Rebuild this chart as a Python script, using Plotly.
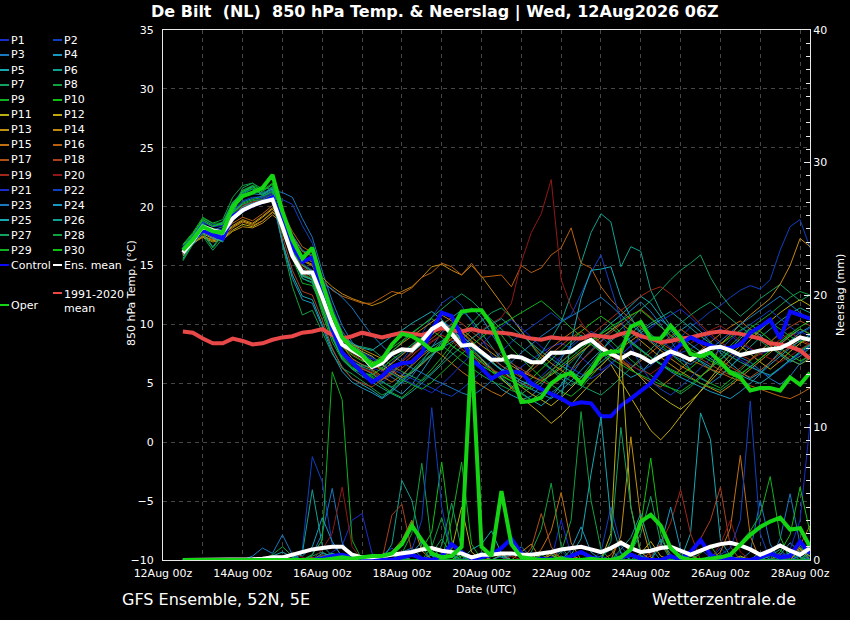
import pandas as pd
import plotly.graph_objects as go

# 6-hourly output times of the 12Aug2026 06Z run
times = pd.date_range("2026-08-12 12:00", "2026-08-28 06:00", freq="6h")

member_names = ["P1", "P2", "P3", "P4", "P5", "P6", "P7", "P8", "P9", "P10",
                "P11", "P12", "P13", "P14", "P15", "P16", "P17", "P18", "P19", "P20",
                "P21", "P22", "P23", "P24", "P25", "P26", "P27", "P28", "P29", "P30"]

# 850 hPa temperature (deg C) per member
t_p1 = [16.3,17.1,18.2,17.9,17.6,19.1,20.0,20.5,20.7,21.1,18.4,16.0,14.5,14.1,11.6,9.3,7.8,7.0,6.6,
        6.3,6.0,6.8,7.5,8.2, 8.9,9.6,10.2,9.8,9.1, 8.3,7.5,6.8,6.2,5.9, 6.4,7.0,7.6,8.1,8.4,
        8.0,7.2,6.5,6.1,6.7, 7.4,8.2,8.8,9.1,8.7, 8.0,7.6,7.9,8.5,9.2, 9.6,9.1,8.4,7.9,7.5, 7.8,8.4,9.0,9.4,9.0]
t_p2 = [16.7,17.7,18.9,18.5,18.4,20.3,21.4,21.7,21.3,21.9,19.2,16.6,14.7,14.1,11.2,8.8,7.1,6.3,5.8,
        5.4,5.0,5.8,6.9,8.0, 9.2,10.6,11.8,12.4,11.6, 10.2,8.8,7.4,6.5,5.8, 5.2,4.9,5.6,6.4,7.3,
        8.1,8.8,9.4,9.0,8.2, 7.3,6.6,6.0,6.5,7.2, 8.0,8.9,9.8,10.4,11.1, 11.6,12.3,12.9,13.3,13.0, 13.8,16.3,18.3,18.9,16.5]
t_p3 = [16.4,17.5,18.6,18.0,18.3,19.9,20.8,21.1,21.0,21.4,21.2,20.8,19.0,17.4,14.5,12.0,9.9,8.5,7.6,
        6.9,6.2,5.5,5.0,5.6, 6.8,8.0,9.3,10.1,10.8, 11.4,10.6,9.2,7.9,6.8, 5.9,5.1,4.6,4.2,4.8,
        5.7,6.9,7.8,8.6,9.5, 10.3,11.2,11.9,11.1,10.0, 8.6,7.3,6.1,5.4,5.0, 5.6,6.4,7.2,6.8,6.1, 5.4,4.9,5.6,6.7,7.5]
t_p4 = [16.1,17.3,18.4,17.6,17.9,19.5,20.2,20.3,20.5,20.9,18.9,16.4,14.2,13.8,11.9,9.5,7.7,6.9,6.3,
        5.8,5.2,4.6,4.1,4.9, 6.0,7.2,8.5,9.4,8.8, 7.6,6.4,5.3,4.5,4.0, 3.6,3.9,4.8,5.9,7.1,
        8.3,9.1,8.5,7.6,6.8, 6.1,5.5,5.9,6.8,7.9, 8.8,9.5,10.1,9.4,8.5, 7.6,6.7,6.0,5.4,5.9, 6.8,7.7,8.6,9.3,9.8]
t_p5 = [15.8,16.9,18.0,17.4,17.0,18.8,19.6,20.2,20.4,20.7,17.0,14.2,12.4,12.1,10.0,7.9,6.4,5.4,4.9,
        4.4,3.8,4.5,5.6,6.6, 7.5,8.1,8.6,9.2,8.7, 8.0,7.1,6.3,5.5,4.8, 4.2,3.6,3.1,3.8,4.9,
        6.2,7.4,8.5,9.3,10.1, 10.8,11.6,12.4,11.8,10.7, 9.6,8.4,7.5,6.9,6.4, 7.0,7.9,8.8,9.6,9.1, 8.2,7.4,6.8,7.3,8.0]
t_p6 = [16.5,17.5,18.7,18.3,18.7,20.4,21.1,21.5,21.0,21.6,19.6,17.0,15.0,14.4,11.8,9.2,7.6,6.8,6.4,
        6.1,5.4,5.9,6.8,7.6, 8.3,9.1,9.9,10.6,11.2, 10.4,9.3,8.1,7.0,6.2, 5.6,6.3,7.5,8.8,10.2,
        12.5,15.2,17.8,19.4,18.7, 14.9,16.6,16.2,12.9,11.1, 9.8,8.6,7.5,6.8,6.2, 5.7,6.4,7.3,8.1,8.9, 9.6,10.3,10.9,11.4,11.0]
t_p7 = [15.4,16.8,17.5,16.3,17.3,19.6,21.6,22.0,21.2,21.5,18.2,16.0,13.9,13.5,11.9,10.1,8.6,8.2,8.1,
        7.9,7.2,6.5,6.0,5.6, 5.2,5.9,6.8,7.9,8.7, 9.5,10.3,11.0,11.4,10.6, 9.4,8.2,7.1,6.2,5.4,
        4.8,5.5,6.6,7.7,8.8, 9.6,10.4,11.3,12.0,12.9, 13.8,14.6,15.2,15.9,14.0, 12.6,11.5,10.7,11.4,12.2, 12.8,13.4,12.7,12.0,12.5]
t_p8 = [16.1,17.5,19.0,18.6,18.9,20.8,21.8,22.0,21.5,21.6,16.8,13.2,10.8,11.2,9.4,7.5,6.3,5.8,5.2,
        4.6,4.0,4.4,5.2,6.1, 7.0,7.8,8.5,9.0,8.4, 7.6,6.8,6.0,5.3,4.7, 4.1,3.6,4.2,5.0,5.9,
        6.8,7.6,8.4,9.1,8.6, 7.8,7.0,6.3,5.7,5.1, 4.6,4.1,4.7,5.5,6.4, 7.3,8.2,9.0,9.7,10.3, 10.9,11.6,12.3,12.8,12.5]
t_p9 = [16.8,17.8,19.1,18.6,18.6,20.0,21.2,21.8,21.4,22.0,19.0,16.3,14.4,13.7,10.9,8.5,7.0,6.2,5.9,
        5.5,4.8,4.2,3.8,4.5, 5.3,6.2,7.2,8.3,9.2, 10.1,11.0,10.2,9.1,8.0, 7.1,6.3,5.5,4.9,4.3,
        3.9,4.6,5.6,6.5,7.4, 8.3,9.2,10.0,9.2,8.3, 7.5,6.8,6.1,5.5,5.0, 4.6,5.3,6.1,6.9,7.7, 8.5,9.3,8.6,7.8,8.4]
t_p10 = [16.2,17.2,18.3,17.8,17.8,19.4,20.3,20.6,20.8,21.2,18.7,16.4,14.6,14.3,12.1,9.8,8.1,7.4,6.9,
         6.7,7.3,8.0,8.6,9.3, 9.9,10.5,9.8,9.0,8.2, 7.5,6.8,6.2,5.7,5.2, 4.8,5.4,6.2,7.0,7.8,
         8.6,9.4,10.1,10.7,10.1, 9.3,8.5,7.8,7.2,6.6, 6.1,5.7,6.3,7.0,7.6, 8.3,8.9,9.5,10.0,9.4, 8.7,8.0,7.4,6.9,7.3]
t_p11 = [15.9,17.0,17.5,17.1,17.3,18.0,18.5,18.3,18.8,19.5,19.0,17.2,15.8,15.3,13.5,11.0,9.1,8.2,7.7,
         7.3,6.6,6.0,5.5,5.9, 6.6,7.4,8.1,8.8,9.4, 8.6,7.7,6.9,6.1,5.4, 4.7,4.1,3.6,3.1,3.8,
         4.6,5.5,6.3,7.1,7.9, 7.1,6.3,5.5,4.6,3.9, 3.3,2.8,3.5,4.3,5.2, 6.1,7.0,7.8,8.7,9.5, 10.3,11.0,11.6,12.1,11.6]
t_p12 = [16.0,17.1,17.7,17.3,17.6,18.3,18.8,18.5,19.1,19.8,18.7,16.8,15.4,15.0,13.2,10.7,8.7,7.9,7.2,
         6.8,6.1,6.7,7.4,8.1, 8.8,9.5,10.1,9.4,8.6, 7.8,7.0,6.2,5.4,4.6, 3.8,3.1,2.4,1.6,2.3,
         3.2,4.1,5.0,5.8,6.6, 5.2,3.8,2.4,1.0,0.2, 1.1,2.2,3.3,4.4,5.5, 6.5,7.4,8.2,7.5,6.8, 6.2,6.9,7.7,8.4,8.9]
t_p13 = [15.8,16.9,17.4,17.0,17.2,17.9,18.3,18.2,18.6,19.3,18.6,16.9,15.5,15.1,13.4,11.0,9.4,8.3,7.9,
         7.5,7.1,7.7,8.4,9.0, 9.6,10.2,10.8,10.3,9.6, 8.9,8.2,7.6,7.0,6.5, 6.0,5.6,5.2,5.7,6.3,
         7.0,7.7,8.3,8.9,9.5, 10.1,9.4,8.6,7.9,7.2, 6.6,6.0,5.5,5.0,4.6, 4.2,4.8,5.5,6.2,6.9, 7.6,8.3,9.0,9.6,9.2]
t_p14 = [16.0,17.1,17.8,17.4,17.6,18.4,18.9,18.6,19.2,19.9,19.2,17.5,16.2,15.8,14.0,13.2,12.6,12.2,11.9,
         11.6,11.9,12.4,12.8,13.2, 14.0,14.9,15.1,14.6,14.2, 15.0,14.1,13.0,11.8,10.6, 9.4,8.3,7.4,6.7,6.1,
         5.6,5.2,5.8,6.5,7.3, 8.0,8.6,9.2,8.5,7.8, 7.1,6.5,6.0,5.6,6.2, 8.3,9.1,10.0,10.8,11.5, 12.2,13.4,15.0,17.3,16.6]
t_p15 = [15.9,16.9,17.5,17.2,17.3,18.2,18.7,18.4,18.8,19.6,18.5,16.5,15.0,14.6,12.8,10.2,8.2,7.1,6.6,
         6.2,5.6,5.1,5.7,6.5, 7.3,8.0,7.4,6.7,6.0, 5.4,4.8,4.3,3.9,4.6, 5.5,6.4,7.2,8.0,8.7,
         9.3,9.9,9.2,8.4,7.6, 6.9,6.2,5.6,5.1,4.7, 5.4,6.2,7.0,7.8,8.5, 9.2,9.8,10.3,9.6,8.9, 8.2,7.6,7.0,6.6,7.1]
t_p16 = [16.1,17.2,17.9,17.5,17.8,18.6,19.1,18.8,19.4,20.1,19.5,17.9,16.6,16.1,13.8,12.9,12.4,12.1,11.8,
         11.8,12.3,12.8,12.6,13.1, 14.0,14.4,15.2,14.9,14.2, 15.2,14.0,14.1,14.2,13.2, 15.0,14.4,14.8,15.9,16.5,
         18.2,15.2,14.8,13.2,12.1, 11.2,10.4,9.7,9.0,8.4, 7.9,7.4,7.0,6.6,6.2, 5.9,5.5,5.2,4.8,4.5, 4.2,3.9,3.7,4.1,4.6]
t_p17 = [16.3,17.3,18.4,17.9,17.6,19.2,20.0,20.3,20.5,20.9,18.3,15.9,14.1,13.8,11.5,9.2,7.4,6.6,6.2,
         5.9,5.3,5.8,6.6,7.3, 8.1,8.8,9.5,10.0,9.3, 8.5,7.8,7.1,6.5,6.0, 5.5,6.1,6.8,7.5,8.2,
         8.9,9.4,8.7,8.0,7.4, 6.8,6.3,6.9,7.6,8.3, 9.0,9.6,9.0,8.3,7.6, 7.0,6.4,5.9,5.5,6.1, 6.8,7.5,8.1,8.6,8.2]
t_p18 = [16.0,17.1,18.2,17.6,17.3,19.1,19.8,20.4,20.6,20.9,17.5,14.6,12.8,12.5,10.4,8.0,6.3,5.4,5.0,
         4.7,5.3,6.0,6.8,7.7, 8.5,9.3,10.0,10.6,10.1, 9.4,8.7,8.0,7.3,6.7, 6.2,5.7,5.2,4.8,5.4,
         6.1,6.9,7.7,8.5,9.3, 10.0,10.7,11.3,10.6,9.8, 9.0,8.3,7.7,7.1,6.6, 6.1,5.7,6.3,7.0,7.8, 8.5,9.2,9.8,10.3,9.9]
t_p19 = [16.2,17.2,18.2,17.7,17.5,19.2,20.1,20.4,20.6,21.0,18.8,16.5,14.8,14.4,12.0,9.9,8.2,7.5,7.0,
         6.6,6.1,5.7,6.3,7.0, 7.8,8.5,9.1,8.6,7.9, 7.3,6.7,6.2,5.8,5.4, 5.0,4.7,5.3,6.0,6.8,
         7.6,8.4,9.1,9.8,10.5, 11.2,11.8,12.4,12.9,13.2, 12.6,11.8,10.9,10.0,9.2, 8.5,7.9,7.4,7.0,7.5, 8.1,8.7,9.3,8.8,8.3]
t_p20 = [16.1,17.1,18.1,17.6,17.4,19.0,19.9,20.2,20.4,20.8,18.5,16.1,14.3,14.0,11.7,9.4,7.6,6.8,6.3,
         6.0,5.6,6.2,6.9,7.5, 8.0,8.6,9.1,8.7,8.2, 8.8,9.5,10.1,10.6,11.8, 15.3,17.8,19.4,22.3,13.8,
         11.5,10.2,9.1,8.3,7.6, 7.0,6.5,6.1,5.8,6.4, 7.1,7.8,8.4,9.0,9.5, 9.9,9.3,8.6,8.0,7.5, 7.1,6.8,7.3,7.9,8.4]
t_p21 = [16.6,17.6,18.7,18.3,18.4,20.1,21.2,21.5,21.1,21.7,19.5,17.0,15.2,14.6,12.1,9.7,8.2,7.6,7.3,
         7.1,6.5,5.9,5.4,5.0, 4.6,4.2,4.9,5.7,6.6, 7.5,8.3,9.1,9.8,10.4, 9.7,8.9,8.1,7.4,6.8,
         6.3,5.8,5.4,5.9,6.6, 7.4,8.2,9.0,9.7,10.3, 10.8,11.3,10.6,9.8,9.0, 8.3,7.6,7.0,6.5,6.0, 5.6,6.2,6.9,7.5,8.1]
t_p22 = [16.3,17.3,18.4,18.0,18.1,19.6,20.5,20.8,20.8,21.2,20.6,20.2,18.4,16.9,14.0,11.5,9.4,8.2,7.6,
         7.2,6.7,6.2,5.8,5.4, 5.0,4.6,4.2,3.9,4.5, 5.2,6.0,6.9,7.7,8.5, 9.2,9.8,10.4,11.0,10.3,
         10.8,12.6,14.4,15.9,13.2, 10.4,8.2,6.5,5.2,4.5, 4.0,4.7,5.5,6.3,7.1, 7.9,8.7,9.4,10.0,10.6, 11.2,10.5,9.8,9.2,9.7]
t_p23 = [16.4,17.4,18.5,18.0,17.9,19.5,20.4,20.7,20.9,21.3,19.8,17.6,16.3,15.9,13.5,13.0,12.3,11.4,10.2,
         9.1,8.2,7.4,6.8,6.3, 5.9,5.4,5.0,4.6,4.2, 3.9,4.5,5.2,6.0,6.8, 7.6,8.3,9.0,9.6,10.2,
         10.7,11.2,11.8,12.3,11.6, 10.8,10.0,9.3,8.6,8.0, 7.5,7.0,6.6,7.2,7.9, 8.6,9.3,10.0,10.6,11.2, 11.8,12.4,11.7,11.0,10.4]
t_p24 = [15.9,16.8,17.9,17.3,17.1,18.9,19.5,20.1,20.3,20.6,16.9,13.9,12.1,11.8,9.8,7.6,6.0,5.1,4.6,
         4.2,3.7,4.3,5.1,5.9, 6.7,7.4,8.0,8.5,9.0, 8.3,7.5,6.8,6.1,5.5, 5.0,4.5,4.1,3.7,4.4,
         5.2,6.1,7.0,7.8,8.6, 9.3,8.6,7.9,7.2,6.6, 6.0,5.5,5.1,4.7,4.3, 4.0,3.7,4.3,5.0,5.8, 6.6,7.3,8.0,8.6,9.1]
t_p25 = [15.6,17.0,17.8,16.6,17.7,19.5,21.3,21.7,21.1,21.5,18.4,16.2,14.1,13.8,12.0,10.3,9.0,8.4,8.0,
         7.8,8.4,9.0,9.5,10.1, 10.6,11.1,10.4,9.6,8.8, 8.1,7.4,6.8,6.2,5.7, 5.2,4.8,4.4,4.0,3.6,
         8.5,12.2,14.6,14.7,14.9, 12.3,10.6,9.3,9.9,10.4, 9.7,9.0,8.3,7.7,7.1, 6.6,6.1,5.7,5.3,5.0, 5.6,6.3,7.0,7.7,8.3]
t_p26 = [16.2,17.2,18.2,17.7,17.6,19.2,20.0,20.3,20.5,20.8,18.2,15.7,13.9,13.6,11.2,8.9,7.1,6.2,5.6,
         5.1,4.6,4.1,3.7,4.3, 5.0,5.8,6.6,7.4,8.1, 8.8,9.4,10.0,10.5,9.8, 9.1,8.4,7.7,7.1,6.5,
         6.0,5.5,6.1,6.8,7.5, 8.2,8.9,9.5,10.1,10.6, 11.1,10.4,9.7,9.0,8.4, 7.8,7.3,6.8,6.4,6.0, 5.7,6.3,7.0,7.6,8.2]
t_p27 = [16.5,17.6,18.8,18.3,18.6,20.3,21.2,21.5,21.0,21.7,19.3,17.0,15.1,14.5,12.0,9.4,7.6,6.8,6.5,
         6.4,7.0,7.7,8.5,9.2, 9.9,10.6,11.3,12.0,12.6, 12.0,11.2,10.4,9.6,8.8, 8.1,7.4,6.8,6.2,5.7,
         5.2,4.8,4.4,4.0,4.7, 5.5,6.3,7.1,7.9,8.7, 9.4,10.1,10.8,11.4,11.9, 11.2,10.5,9.8,9.2,8.6, 8.0,7.5,7.0,6.6,7.2]
t_p28 = [16.3,17.2,18.3,17.8,17.7,19.3,20.2,20.5,20.6,21.0,18.5,16.1,14.2,13.9,11.6,9.1,7.3,6.4,5.9,
         5.6,5.1,4.7,5.3,6.0, 6.8,7.5,8.2,7.6,6.9, 6.3,5.7,5.2,4.8,4.4, 4.1,4.7,5.4,6.1,6.8,
         7.5,8.1,8.7,9.2,9.7, 9.1,8.4,7.8,7.2,6.7, 6.2,5.8,5.4,5.0,4.7, 4.4,5.0,5.7,6.4,7.1, 7.8,8.5,9.1,9.6,9.2]
t_p29 = [15.5,16.9,17.7,16.5,17.6,19.3,21.4,21.8,20.9,21.3,17.8,15.6,13.5,13.3,11.5,9.6,8.2,7.6,7.2,
         6.9,6.3,5.8,5.3,4.9, 4.5,5.1,5.9,6.7,7.5, 8.2,8.9,9.5,10.0,10.5, 11.0,11.5,12.0,11.3,10.5,
         9.7,9.0,8.3,7.7,7.1, 6.6,6.1,5.7,5.3,4.9, 4.6,4.3,4.9,5.6,6.3, 7.0,7.7,8.4,9.0,9.6, 10.2,9.6,9.0,8.5,8.9]
t_p30 = [16.7,17.7,18.9,18.4,18.5,20.2,21.3,21.6,21.3,21.9,19.1,16.5,14.6,14.0,11.3,8.9,7.2,6.3,5.9,
         5.7,6.3,7.0,7.6,8.3, 8.9,9.5,8.9,8.2,7.6, 7.0,6.5,6.0,5.6,5.2, 4.8,4.5,5.1,5.8,6.5,
         7.2,7.9,8.6,9.2,9.8, 10.3,10.8,11.2,10.5,9.8, 9.1,8.5,7.9,7.4,6.9, 6.5,6.1,5.8,6.4,7.1, 7.8,8.5,9.2,9.8,10.3]

t_control = [16.3,17.2,18.0,17.6,17.3,19.2,19.7,20.1,20.4,20.8,18.6,16.6,15.3,15.7,12.7,9.6,7.6,6.8,5.9,
             5.1,5.6,6.4,6.7,6.8,7.6,9.5,11.0,10.7,9.0,7.0,6.3,5.4,5.9,6.0,5.9,5.0,4.5,4.1,3.7,3.2,
             3.4,3.3,2.2,2.2,3.1,3.7,4.3,5.0,6.1,7.5,8.3,8.9,8.5,8.2,8.0,8.0,8.3,9.3,9.8,10.4,8.8,11.1,10.8,10.5]
t_ens_mean = [16.1,17.1,18.3,18.0,17.8,19.0,19.7,20.1,20.4,20.6,18.3,15.8,14.4,14.4,12.3,10.0,8.3,7.8,7.3,
              6.4,6.7,7.5,7.9,7.8,8.6,9.6,10.1,9.2,8.2,8.3,7.7,7.0,7.0,7.3,7.2,6.8,6.8,7.6,7.6,7.7,
              8.3,8.7,8.0,7.5,7.1,7.6,7.3,6.8,7.3,7.7,7.4,7.0,7.6,8.0,8.1,7.8,7.4,7.6,7.8,7.9,8.0,8.4,8.9,8.7]
t_oper = [16.3,17.2,18.3,17.9,17.8,20.0,20.9,21.2,21.6,22.7,19.6,17.2,15.6,16.5,13.5,10.9,8.9,8.0,7.4,
          6.5,7.0,8.3,9.2,9.0,8.5,7.8,8.0,9.5,11.1,11.2,11.2,10.0,8.0,6.0,3.4,3.5,3.8,5.0,5.6,5.9,
          5.0,6.1,7.4,7.7,7.7,9.8,10.2,8.8,8.8,9.9,8.9,7.5,7.3,7.6,6.8,5.9,5.5,4.4,4.6,4.6,4.4,5.5,4.9,5.9]
t_clim = [9.4,9.3,8.8,8.4,8.4,8.8,8.6,8.3,8.4,8.7,8.9,9.0,9.3,9.4,9.6,9.1,8.8,9.0,9.3,
          9.1,8.9,9.1,9.3,9.2,9.1,9.4,9.7,9.5,9.4,9.6,9.4,9.3,9.3,9.2,9.0,8.8,8.7,8.9,8.8,8.8,
          8.8,9.1,9.0,8.9,9.2,9.4,9.0,8.8,8.5,8.6,8.8,8.9,9.1,9.3,9.4,9.3,9.2,9.0,8.8,8.4,8.3,8.1,7.8,7.1]

# 6-hourly precipitation (mm) per member
r_p1 = [0,0,0,0,0,0,0,0, 0,0,0,0,0,0,0.2,0.6, 1.1,3.0,3.5,0.5,0,0,0.3,0, 0,0,0,0,0,0,0.4,0,
        0,0,0,0.6,0,0,3.0,0.4, 0,0,0,0,0.6,0,0,0, 0,0,0,0,0.8,0.2,0,0, 0,0,0,0,0.5,0.2,0,0]
r_p2 = [0,0,0,0,0,0,0,0, 0,0,0,0,0.8,7.8,5.9,1.2, 0.3,0,0,0,0.4,0.9,0.2,0, 0,0,0.5,1.2,0.3,0,0,0,
        0,0,0,0,0,0.2,0.7,0, 0,0,0.6,4.0,1.1,0,0,0, 0,0.3,0,0,0,0,0.9,0.2, 0,0,0,0,0,0,0.4,0]
r_p3 = [0,0,0,0,0,0,0,0, 0,0,0,0,0,0.4,2.0,5.4, 1.3,0.2,0,0,0,0,0.6,0.9, 0.2,0,0,0,0,0.3,0,0,
        0,0.4,1.0,0.2,0,0,0,0, 0,0,0,0,0,0.5,0.2,0, 0,0,0,0,0,0.3,0,0, 0,0.6,4.5,1.2,0,0,0,0]
r_p4 = [0,0,0,0,0,0,0,0, 0,0,0.2,0.5,0.3,1.0,3.2,1.4, 0.2,0,0,0,0,0,0,0.5, 1.4,0.3,0,0,0,0,0,0.6,
        0.2,0,0,0,0,0,0,0.8, 2.5,0.6,0,0,0,0,0,0, 1.6,0.4,0,0,0,0,0,0, 0,0,0,0,0.4,1.3,0.6,0]
r_p5 = [0,0,0,0,0,0,0,0, 0,0.3,0.6,0.2,0,0,0,0.4, 0.3,0,0,0,0,0,0,0, 0,0.4,0,0,0,0.8,1.2,2.2,
        0.5,0,0,0,0,0,0.3,0, 0,0,0,0,0,0.4,0,0, 0,0,0,2.0,11.1,9.1,1.5,0.3, 0,0,0,0,0,0.6,0.2,0]
r_p6 = [0,0,0,0,0,0,0,0, 0,0,0,0,0.5,5.3,1.1,0.3, 0,0,0,0,0,1.2,6.0,4.5, 1.0,0,0,0,0,0,0,0,
        0,0,0,0.4,0.2,0,0,0, 0,0,0.3,0.8,0,0,0,0, 0,0,0,0,0,0,0.4,0, 0,0,0,0.3,0.8,0,0,0]
r_p7 = [0,0,0,0,0,0,0,0, 0,0,0,0,0,0.3,0.6,0.2, 0,0,0,0,0.3,0,0,0, 0,0.5,1.6,0.4,0,0,0,0,
        0,0,0,0,0,0.4,0,0, 0,0,0,0,0,0.6,2.0,4.8, 1.3,0,0,0,0,0,0,0, 0.2,0,0,0,0,0,0,0.7]
r_p8 = [0,0,0,0,0,0,0,0, 0,0.4,1.0,0.3,0,0,0,0, 0,0,0,0,0,0,0.5,2.0, 7.3,1.1,0,0,0,0,0,0,
        0,0,0,0,0,0,0.6,3.0, 11.2,4.5,0.8,0,0,0,0,0, 0,0,0,0.3,0,0,0,0, 0,0,0,0,0,0.4,1.0,0.2]
r_p9 = [0,0,0,0,0,0,0,0, 0,0,0,0,0,0.4,1.5,14.2, 12.1,1.5,0,0,0,0,0,0, 0,0,0,3.0,7.4,1.2,0,0,
        0,0,0,0,0.4,0,0,0, 0,0,0,0,0,0,0.3,0, 0,0,0,0,0.5,1.1,0,0, 0,0,0,0,0,0,0,0.5]
r_p10 = [0,0,0,0,0,0,0,0, 0,0,0,0,0,0,0.3,0.5, 0.2,0,0,0,0,0,0,0.4, 0.8,2.1,7.4,1.5,0,0,0,0,
         0,0,0,0,0,0.6,0,0, 0,0,0,0,0,0.8,2.6,7.7, 2.0,0,0,0,0,0,0,0, 0,0,0,0,0.3,0,0,0]
r_p11 = [0,0,0,0,0,0,0,0, 0,0,0,0,0,0,0.2,0.4, 0,0,0,0,0.3,0,0,0, 0,0,0,0,0.6,0.3,0,0,
         0,0,0,0,0,0,0,0.4, 0,0,0,2.0,16.0,4.0,0.6,0, 0,0,0,0,0,0,0,0, 0.3,0,0,0,0,0,0,0]
r_p12 = [0,0,0,0,0,0,0,0, 0,0,0,0,0,0,0,0.3, 0.2,0,0,0,0,0,0,0, 0,0,0,0.8,4.0,0.6,0,0,
         0.4,0,0,0,0,0,0,0, 0,0,0,0,0,0,0.5,1.4, 0.3,0,0,0,0,0,0,0, 0,0,0,0,0,0,0.8,0.3]
r_p13 = [0,0,0,0,0,0,0,0, 0,0,0,0,0,0,0,0.2, 0.4,0,0,0,0,0,0,0, 0,0,0,0,0,0,0.3,0,
         0,0,0,0,0,0.4,0,0, 0,0,0,0,1.8,9.3,3.0,0.2, 0,0,0,0,0,0,0,0, 0,0,0,0,0,0.3,0.9,0]
r_p14 = [0,0,0,0,0,0,0,0, 0,0,0,0,0,0,0.2,0, 0,0,0,0,0,0.6,1.5,3.0, 0.7,0,0,0,0,0,0,0,
         0,0,0.6,1.2,0,0,0,0, 0,0,0,0,0,0,0,0, 0,0,0,0.4,0,0,0,0, 0,0,0,0,0,0,0,0]
r_p15 = [0,0,0,0,0,0,0,0, 0,0,0,0,0,0,0,0, 0.3,0,0,0,0,0,0,0, 0,0,0,0,0,0,0.4,0,
         0,0,0,0,0.8,2.2,5.1,1.3, 0,0,0,0,0,0,0,0, 0,0,0,0,0,0,0.6,2.4, 7.9,1.8,0,0,0,0,0,0]
r_p16 = [0,0,0,0,0,0,0,0, 0,0,0,0,0,0,0,0, 0,0,0,0,0,0,0.3,0, 0,0,0,0,0,0,0,0,
         0,0,0,0,0,0.6,0.2,0, 0,0,0,0.4,1.5,0.5,0,0, 0,0,0,0,0,0,0,0, 0,0,0,0,0,0,1.1,2.6]
r_p17 = [0,0,0,0,0,0,0,0, 0,0,0,0,0,0.2,0,0, 0,0,0,0,0,0,0,0, 0,0,0,0,0,0,0,0,
         0,0,0,0.9,3.5,1.0,0,0, 0,0,0,0,0,0,0,0.6, 1.2,0.3,0,0,0,0,0,0, 0,0,0,0,0,0,0,0]
r_p18 = [0,0,0,0,0,0,0,0, 0,0,0,0,0,0,0,0.3, 0,0,0,0,0,3.4,4.2,0.6, 0,0,0,0,0,0,0,0,
         0,0,0,0,0,0,0,0.3, 0,0,0,0,0,0,0,0, 0,0,0,0.5,1.6,3.0,5.5,1.0, 0,0,0,0,0,0,0,0]
r_p19 = [0,0,0,0,0,0,0,0, 0,0,0,0,0,0,0.4,0, 0,0,0,0,0,0,0,0, 0,0,0,0,0,0,0,0,
         0,0.3,0,0,0,0,0,0, 0,0,0,0,0,0,0,0.3, 1.2,2.8,5.3,2.0,0,0,0,0, 0,0,0,0,0.4,0,0,0]
r_p20 = [0,0,0,0,0,0,0,0, 0,0,0,0.6,0.2,0,0.8,2.0, 5.5,1.0,0,0,0,0,0,0, 0,0,0,0,0,0,0,0,
         0,0,0,0,0,0,0,0, 0,0,0,0,0,0.4,0,0, 0,0,0,0,0,0,1.2,3.0, 0.6,0,0,0,0,0,0,0]
r_p21 = [0,0,0,0,0,0,0,0, 0,0,0,0,0,0,0,0, 0.4,0,0,0,0,0,0,0, 0,0,0,0.3,0,0,0,0,
         0,0,0,0,0,0,0,0, 0,0,0,0,0,0,0.4,0, 0,0,0,0,0,0,0,0, 0,0,0,0,0,0.8,3.0,10.3]
r_p22 = [0,0,0,0,0,0,0,0, 0,0,0,0,0,0,0,0.3, 0,0,0,0,0,0,0,0.8, 3.0,11.5,4.0,0.5,0,0,0,0,
         0,0,0,0,0,0,0,0, 0,0,0.3,0,0,0,0,0, 0,0,0,0,0,0,0.4,0.9, 3.0,12.0,2.0,0,0,0,0,0]
r_p23 = [0,0,0,0,0,0,0,0.3, 0.9,0.5,1.9,0.4,0,0,0.3,0, 0,0,0,0,0,0,0,0, 0,0,0,0,0,0,0.6,0,
         0,0,0,0,0,0,0,0, 0,0,0,0,0,0,0,0, 0,0,0.5,0,0,0,0,0, 0,0,0,0,1.6,5.0,1.2,0]
r_p24 = [0,0,0,0,0,0,0,0, 0,0,0,0,0,0,0.5,0.3, 0,0,0,0,0,0,0,0, 0,0,0,0,0,0,0,0,
         0.3,0,0,0,0,0,0,0, 0,0,0,0,0,0,0,0, 1.1,4.0,0.8,0,0,0,0,0, 0,0,0,0,0,0,0.3,0.7]
r_p25 = [0,0,0,0,0,0,0,0, 0,0,0,0,0,0,0,0.5, 0.2,0,0,0,0,0,0,0, 0,0,0,0,0.5,0.2,0,0,
         0,0,0,0,0,0,0,0.4, 1.6,6.5,10.8,3.0,0.5,0,0,0, 0,0,0,0,0,0,0,0, 0,0,0.6,0,0,0,0,0]
r_p26 = [0,0,0,0,0,0,0,0, 0,0,0,0,0,0,0.2,0, 0,0,0,0,0,0,0.3,0, 0,0,0,0,0,0,0,0,
         0,0,0,0,0,0,0,0, 0,0,0,0,0.8,1.7,3.5,0.9, 0,0,0,0,0,0,0,0, 0,0,0,0.4,0,0,0,0]
r_p27 = [0,0,0,0,0,0,0,0, 0,0,0,0,0,0,0,0.2, 0,0,0,0,0,0,0,0, 0,0,1.1,4.3,0.8,0,0,0,
         0,0,0,0,0,0,0,0, 0,0,0,1.4,10.0,4.0,0.3,0, 0,0,0,0,0,0,0,0, 0,0,0,0,0,0.5,0,0]
r_p28 = [0,0,0,0,0,0,0,0, 0,0,0,0,0,0,0,0.3, 0,0,0,0,0,0,0,0, 0,1.0,3.2,0.4,0,0,0,0,
         0,0,0,0.6,2.3,5.8,1.0,0, 0,0,0,0,0,0,0,0, 0,0,0,0,0,0,0.3,0, 0,0,0,0,0,0,0,0]
r_p29 = [0,0,0,0,0,0,0,0, 0,0,0,0,0,0,0,0, 0,0,0,0,0,0.4,0,0, 0,0,0,0,0,0,0,0,
         0,0,0,0,0,0,0,0, 0,0,0,0,0,0,0,0, 0,0,0,0,0,0,0,0.5, 1.3,2.2,3.4,6.3,1.8,0,0,0]
r_p30 = [0,0,0,0,0,0,0,0, 0,0,0,0,0,0,0,0, 0,0,0,0,0,0,0,0, 0,0,0,0,0.3,0,0,0,
         0,0,0,0,0,0,0,0, 0,0,0,0,0,0,0,0, 0,0,0,0,0,0,0,0, 0,0,0,0,0.6,1.9,5.5,2.1]

r_control = [0,0,0,0,0,0,0,0,0,0,0,0,0,0,0.1,0.3,0.4,0.2,0,0,0.1,0,0.2,0.4,0.1,0,0.3,1.2,0.6,0.1,0.2,0.4,
             0.9,1.6,0.5,0,0.1,0,0,0.3,0.6,0.2,0,0,0.2,0.4,0.1,0,0,0.3,0,0.6,1.5,0.4,0,0.1,0,0,0.2,0.5,0.2,0.3,1.4,0.5]
r_ens_mean = [0,0,0,0,0,0,0,0.05,0.1,0.2,0.2,0.4,0.6,0.8,0.9,1.0,1.0,0.4,0.2,0.2,0.3,0.4,0.5,0.6,0.8,0.9,0.7,0.6,0.5,0.2,0.4,0.4,
              0.5,0.5,0.4,0.4,0.5,0.6,0.8,0.9,1.0,0.8,0.6,0.9,1.3,0.9,0.6,0.7,0.9,1.0,0.7,0.4,0.7,1.0,1.2,1.3,1.1,0.8,0.4,0.7,1.1,0.7,0.4,0.9]
r_oper = [0,0,0,0,0,0,0,0,0,0,0,0,0,0,0,0.1,0.2,0.1,0.2,0.3,0.3,0.5,1.2,2.6,1.5,0.5,0.2,0.3,1.0,15.8,1.0,0.3,
          5.2,1.2,0.2,0.1,0,0,0.1,0,0,0.1,0,0,0.2,0.8,2.9,3.4,2.6,0.9,0.2,0,0,0.1,0.2,0.4,1.2,1.9,2.5,2.9,3.2,2.3,2.4,1.0]

member_temps = [t_p1, t_p2, t_p3, t_p4, t_p5, t_p6, t_p7, t_p8, t_p9, t_p10,
                t_p11, t_p12, t_p13, t_p14, t_p15, t_p16, t_p17, t_p18, t_p19, t_p20,
                t_p21, t_p22, t_p23, t_p24, t_p25, t_p26, t_p27, t_p28, t_p29, t_p30]
member_rain = [r_p1, r_p2, r_p3, r_p4, r_p5, r_p6, r_p7, r_p8, r_p9, r_p10,
               r_p11, r_p12, r_p13, r_p14, r_p15, r_p16, r_p17, r_p18, r_p19, r_p20,
               r_p21, r_p22, r_p23, r_p24, r_p25, r_p26, r_p27, r_p28, r_p29, r_p30]

for s in member_temps + member_rain + [t_control, t_ens_mean, t_oper, t_clim, r_control, r_ens_mean, r_oper]:
    assert len(s) == len(times), len(s)

base_colors = ["#1a2ccc", "#1040c0", "#1878c0", "#1898c0", "#18a8b0",
               "#10a090", "#10a060", "#10a040", "#10b020", "#10c010",
               "#b8b010", "#c0a810", "#c09010", "#c08810", "#c07010",
               "#b86010", "#b05018", "#a84020", "#a02818", "#901818"]
member_colors = base_colors + base_colors[:10]

CONTROL = "#0a0aff"
OPER = "#14d414"
MEAN = "#ffffff"
CLIM = "#e84848"
FONT = "DejaVu Sans"

fig = go.Figure()

for name, temp, rain, col in zip(member_names, member_temps, member_rain, member_colors):
    fig.add_trace(go.Scatter(x=times, y=rain, yaxis="y2", mode="lines",
                             line=dict(color=col, width=1), name=name, showlegend=False))
    fig.add_trace(go.Scatter(x=times, y=temp, mode="lines",
                             line=dict(color=col, width=1), name=name, showlegend=False))

fig.add_trace(go.Scatter(x=times, y=t_clim, mode="lines", line=dict(color=CLIM, width=4),
                         name="1991-2020 mean", showlegend=False))
fig.add_trace(go.Scatter(x=times, y=t_control, mode="lines", line=dict(color=CONTROL, width=4),
                         name="Control", showlegend=False))
fig.add_trace(go.Scatter(x=times, y=t_ens_mean, mode="lines", line=dict(color=MEAN, width=4),
                         name="Ens. mean", showlegend=False))
fig.add_trace(go.Scatter(x=times, y=t_oper, mode="lines", line=dict(color=OPER, width=4),
                         name="Oper", showlegend=False))
fig.add_trace(go.Scatter(x=times, y=r_control, yaxis="y2", mode="lines",
                         line=dict(color=CONTROL, width=4), showlegend=False))
fig.add_trace(go.Scatter(x=times, y=r_ens_mean, yaxis="y2", mode="lines",
                         line=dict(color=MEAN, width=4), showlegend=False))
fig.add_trace(go.Scatter(x=times, y=r_oper, yaxis="y2", mode="lines",
                         line=dict(color=OPER, width=4), showlegend=False))

# pixel -> paper helpers (plot area is 163..810 x 30..560)
def px_x(p):
    return (p - 163) / 647


def px_y(p):
    return (560 - p) / 530


# hand-built two column legend on the left
shapes = []
annotations = []


def legend_item(x0, y, text, color, width=2):
    shapes.append(dict(type="line", xref="paper", yref="paper", x0=px_x(x0), x1=px_x(x0 + 9),
                       y0=px_y(y), y1=px_y(y), line=dict(color=color, width=width)))
    annotations.append(dict(xref="paper", yref="paper", x=px_x(x0 + 9), y=px_y(y), text=text,
                            showarrow=False, xanchor="left", yanchor="middle", align="left",
                            font=dict(family=FONT, size=11, color="white")))


def label(x, y, text, size=11, angle=0, anchor="center", bold=False):
    if bold:
        text = "<b>" + text + "</b>"
    annotations.append(dict(xref="paper", yref="paper", x=px_x(x), y=px_y(y), text=text,
                            showarrow=False, xanchor=anchor, yanchor="middle", textangle=angle,
                            font=dict(family=FONT, size=size, color="white")))


for k, (name, col) in enumerate(zip(member_names, member_colors)):
    legend_item(0 if k % 2 == 0 else 53, 40 + 15 * (k // 2), name, col)
legend_item(0, 265, "Control", CONTROL)
legend_item(53, 265, "Ens. mean", MEAN)
legend_item(0, 305, "Oper", OPER)
shapes.append(dict(type="line", xref="paper", yref="paper", x0=px_x(53), x1=px_x(62),
                   y0=px_y(293), y1=px_y(293), line=dict(color=CLIM, width=2)))
annotations.append(dict(xref="paper", yref="paper", x=px_x(62), y=px_y(286),
                        text="1991-2020<br>mean", showarrow=False, xanchor="left", yanchor="top",
                        align="left", font=dict(family=FONT, size=11, color="white")))

label(435, 12, "De Bilt\u00a0 (NL)\u00a0 850 hPa Temp. &amp; Neerslag | Wed, 12Aug2026 06Z",
      size=16, bold=True)
label(120, 599, "GFS Ensemble, 52N, 5E", size=16, anchor="left")
label(650, 599, "Wetterzentrale.de", size=16, anchor="left")
label(486, 589, "Date (UTC)")
label(131, 293, "850 hPa Temp. (°C)", angle=-90)
label(840, 295, "Neerslag (mm)", angle=-90)

GRID = "#464646"
DAY = 86400000

fig.update_layout(
    width=850, height=620,
    margin=dict(l=163, r=40, t=30, b=60),
    paper_bgcolor="black", plot_bgcolor="black",
    font=dict(family=FONT, size=11, color="white"),
    shapes=shapes, annotations=annotations,
    showlegend=False,
    xaxis=dict(type="date", range=["2026-08-12 00:00", "2026-08-28 06:00"],
               tick0="2026-08-12", dtick=2 * DAY, tickformat="%d%b %Hz",
               showgrid=True, gridcolor=GRID, griddash="4px,4px", gridwidth=1,
               minor=dict(dtick=DAY, showgrid=True, gridcolor=GRID, griddash="4px,4px"),
               showline=True, linecolor="#e8e8e8", linewidth=1, mirror=True,
               ticks="", zeroline=False, automargin=False, ticklabelstandoff=3),
    yaxis=dict(range=[-10, 35], dtick=5, showgrid=True, gridcolor=GRID,
               griddash="4px,4px", zeroline=False, showline=True, linecolor="#e8e8e8",
               linewidth=1, mirror=True, ticks="", automargin=False, ticklabelstandoff=6),
    yaxis2=dict(range=[0, 40], dtick=10, overlaying="y", side="right", showgrid=False,
                zeroline=False, showline=True, linecolor="#e8e8e8", ticks="inside",
                ticklen=6, tickcolor="#e8e8e8", automargin=False,
                minor=dict(dtick=1, ticks="inside", ticklen=4, tickcolor="#e8e8e8")),
)

fig.write_html("out.html", config={"displayModeBar": False}, post_script=(
    "document.body.style.margin='0';document.body.style.background='black';"
    "document.body.style.overflow='hidden';"))
